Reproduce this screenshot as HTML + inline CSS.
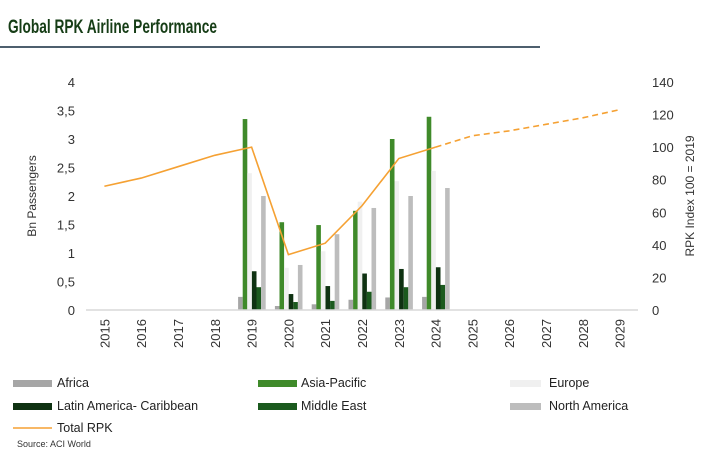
<!DOCTYPE html>
<html><head><meta charset="utf-8"><style>
body{margin:0;background:#fff;font-family:"Liberation Sans",Arial,sans-serif;}
svg text{font-family:"Liberation Sans",Arial,sans-serif;}
</style></head><body>
<svg id="c" width="717" height="451">
<text x="8" y="33" font-size="19" font-weight="bold" fill="#163d16" textLength="209" lengthAdjust="spacingAndGlyphs">Global RPK Airline Performance</text>
<rect x="0" y="46" width="540" height="2" fill="#4e5f6e"/>
<g id="plot"></g>
<text transform="translate(36,196) rotate(-90)" text-anchor="middle" font-size="12" fill="#333">Bn Passengers</text>
<text transform="translate(694,196) rotate(-90)" text-anchor="middle" font-size="12" fill="#333">RPK Index 100 = 2019</text>
<g id="legend"></g>
<text x="17" y="447" font-size="9" fill="#333">Source: ACI World</text>
</svg>
<script>
const years=["2015","2016","2017","2018","2019","2020","2021","2022","2023","2024","2025","2026","2027","2028","2029"];
const africa=[null,null,null,null,0.23,0.07,0.1,0.18,0.22,0.23,null,null,null,null,null];
const asiaPacific=[null,null,null,null,3.35,1.54,1.49,1.74,3.0,3.39,null,null,null,null,null];
const europe=[null,null,null,null,2.4,0.74,1.03,1.9,2.26,2.44,null,null,null,null,null];
const latam=[null,null,null,null,0.68,0.28,0.42,0.64,0.72,0.75,null,null,null,null,null];
const middleEast=[null,null,null,null,0.4,0.14,0.16,0.32,0.4,0.44,null,null,null,null,null];
const northAmerica=[null,null,null,null,2.0,0.79,1.33,1.79,2.0,2.14,null,null,null,null,null];
const totalRpk=[76,81,88,95,100,34,41,64,93,100,107,110,114,118,123];
const actualLast=9;
const leftTicks=["0","0,5","1","1,5","2","2,5","3","3,5","4"];
const rightTicks=["0","20","40","60","80","100","120","140"];

const NS="http://www.w3.org/2000/svg";
const X0=86,X1=638,Y0=310,Y1=82;
const band=(X1-X0)/years.length;
const xc=i=>X0+band*(i+0.5);
const yL=v=>Y0-(v/4)*(Y0-Y1);
const yR=v=>Y0-(v/140)*(Y0-Y1);
const plot=document.getElementById('plot');
function mk(t,a,p){const e=document.createElementNS(NS,t);for(const k in a)e.setAttribute(k,a[k]);(p||plot).appendChild(e);return e;}

leftTicks.forEach((t,i)=>{const e=mk('text',{x:75,y:yL(i*0.5)+5,'text-anchor':'end','font-size':13,fill:'#333'});e.textContent=t;

});
rightTicks.forEach((t,i)=>{const e=mk('text',{x:652,y:yR(i*20)+5,'font-size':13,fill:'#333'});e.textContent=t;

});
years.forEach((y,i)=>{const e=mk('text',{transform:`translate(${xc(i)+5},348) rotate(-90)`,'font-size':13,fill:'#333'});e.textContent=y;

});

const series=[[africa,'#a6a6a6','africa'],[asiaPacific,'#3f8a2a','asia-pacific'],[europe,'#f0f0f0','europe'],[latam,'#0f3212','latam'],[middleEast,'#1b5a1e','middle-east'],[northAmerica,'#bdbdbd','north-america']];
const bw=4.6;
series.forEach((s,si)=>{s[0].forEach((v,i)=>{if(v==null)return;
const x=xc(i)-13.5+si*bw;
const r=mk('rect',{x:x,y:yL(v),width:bw,height:Y0-yL(v),fill:s[1]});

});});

const base=mk('line',{x1:X0,x2:X1,y1:Y0,y2:Y0,stroke:'#d9d9d9','stroke-width':1.5});



let d1='',d2='';
totalRpk.forEach((v,i)=>{if(i<=actualLast)d1+=(i?'L':'M')+xc(i)+','+yR(v);if(i>=actualLast)d2+=(i>actualLast?'L':'M')+xc(i)+','+yR(v);});
const l1=mk('path',{d:d1,fill:'none',stroke:'#f5a133','stroke-width':1.6});


const l2=mk('path',{d:d2,fill:'none',stroke:'#f5a133','stroke-width':1.6,'stroke-dasharray':'6,4'});



const lg=document.getElementById('legend');
const items=[['Africa','#a6a6a6',13,383,57],['Asia-Pacific','#3f8a2a',258,383,301],['Europe','#f0f0f0',510,383,549],['Latin America- Caribbean','#0f3212',13,406,57],['Middle East','#1b5a1e',258,406,301],['North America','#bdbdbd',510,406,549]];
items.forEach(it=>{const g=mk('g',{},lg);


mk('rect',{x:it[2],y:it[3]-3,width:it[2]===510?31:39,height:7,fill:it[1]},g);
const t=mk('text',{x:it[4],y:it[3]+4,'font-size':12.5,fill:'#222'},g);t.textContent=it[0];});
const g=mk('g',{},lg);


mk('line',{x1:13,x2:52,y1:428,y2:428,stroke:'#f5a133','stroke-width':1.5},g);
const t=mk('text',{x:57,y:432,'font-size':12.5,fill:'#222'},g);t.textContent='Total RPK';
</script>
</body></html>
